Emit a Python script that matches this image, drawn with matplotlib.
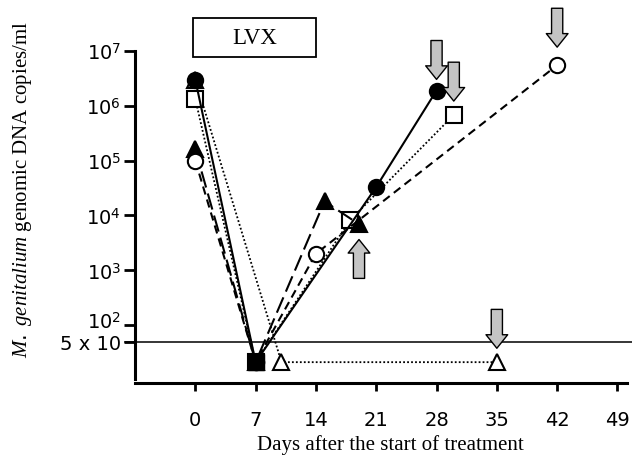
import matplotlib
matplotlib.use("Agg")
import matplotlib.pyplot as plt
from matplotlib.patches import Rectangle

plt.rcParams['mathtext.fontset'] = 'custom'
plt.rcParams['mathtext.rm'] = 'DejaVu Sans'
plt.rcParams['mathtext.it'] = 'Liberation Serif:italic'

# data (copies/ml; 21 = below detection limit)
fc_days = [0, 7, 21, 28]
fc_vals = [3.0e6, 21, 3.3e4, 1.9e6]
sq_days = [0, 7, 18, 30]
sq_vals = [1.33e6, 21, 8.3e3, 6.8e5]
oc_days = [0, 7, 14, 42]
oc_vals = [1.0e5, 21, 2.0e3, 5.5e6]
ft_days = [0, 7, 15, 19]
ft_vals = [1.6e5, 21, 1.8e4, 6.9e3]
ot_days = [0, 10, 35]
ot_vals = [3.0e6, 21, 21]

detect_limit = 50
xticks = [0, 7, 14, 21, 28, 35, 42, 49]
yticks = [50, 1e2, 1e3, 1e4, 1e5, 1e6, 1e7]
ytick_labels = ['5 x 10', r'$10^{2}$', r'$10^{3}$', r'$10^{4}$',
                r'$10^{5}$', r'$10^{6}$', r'$10^{7}$']

fig = plt.figure(figsize=(6.32, 4.6), dpi=100)
ax = fig.add_axes([0.2136, 0.1739, 0.7784, 0.7131])

lw = 1.5
ms = 11
mew = 1.5

# open triangle (dotted)
ax.plot(ot_days, ot_vals, color='k', lw=1.3, ls=(0, (1, 1.2)),
        marker='^', ms=ms, mfc='white', mec='k', mew=mew, zorder=2)
# open square (dotted)
ax.plot(sq_days, sq_vals, color='k', lw=1.3, ls=(0, (1, 1.2)),
        marker='s', ms=ms, mfc='white', mec='k', mew=mew, zorder=3)
ax.plot(sq_days[1], sq_vals[1], 's', ms=ms, mfc='k', mec='k', zorder=6)
# filled triangle (long dash)
ax.plot(ft_days, ft_vals, color='k', lw=lw, ls=(0, (8, 3)),
        marker='^', ms=ms, mfc='k', mec='k', mew=mew, zorder=4)
# open circle (short dash)
ax.plot(oc_days, oc_vals, color='k', lw=lw, ls=(0, (4, 2.5)),
        marker='o', ms=ms, mfc='white', mec='k', mew=mew, zorder=5)
# filled circle (solid)
ax.plot(fc_days, fc_vals, color='k', lw=lw, ls='-',
        marker='o', ms=ms, mfc='k', mec='k', mew=mew, zorder=5)

# detection limit line
ax.plot([-8.2, 51], [detect_limit, detect_limit], color='k', lw=1.1,
        clip_on=False, zorder=1)

# gray arrows
arrow_style = 'simple,head_length=0.75,head_width=1.2,tail_width=0.62'
down_pts = [(fc_days[-1], fc_vals[-1], 8), (sq_days[-1], sq_vals[-1], 10),
            (oc_days[-1], oc_vals[-1], 13), (ot_days[-1], ot_vals[-1], 10)]
for x, y, gap in down_pts:
    ax.annotate('', xy=(x, y), xytext=(0, 28 + gap), textcoords='offset points',
                arrowprops=dict(arrowstyle=arrow_style, fc='#c4c4c4', ec='k',
                                lw=1.0, shrinkA=0, shrinkB=gap, mutation_scale=13),
                zorder=7)
ax.annotate('', xy=(ft_days[-1], ft_vals[-1]), xytext=(0, -39),
            textcoords='offset points',
            arrowprops=dict(arrowstyle=arrow_style, fc='#c4c4c4', ec='k',
                            lw=1.0, shrinkA=0, shrinkB=11, mutation_scale=13),
            zorder=7)

ax.set_yscale('log')
ax.set_ylim(10 ** 1.015, 1e7)
ax.set_xlim(-7, 50.1)
ax.set_xticks(xticks)
ax.set_xticklabels([str(d) for d in xticks])
ax.set_yticks(yticks)
# the 10^2 label sits a little higher in the original, drawn separately below
ax.set_yticklabels([lab if i != 1 else '' for i, lab in enumerate(ytick_labels)])
ax.minorticks_off()
ax.annotate(ytick_labels[1], xy=(0, yticks[1]), xycoords=ax.get_yaxis_transform(),
            xytext=(-10, 4), textcoords='offset points',
            ha='right', va='center_baseline', fontsize=14)

for s in ['top', 'right']:
    ax.spines[s].set_visible(False)
ax.spines['left'].set_linewidth(2.2)
ax.spines['bottom'].set_linewidth(2.2)
ax.spines['bottom'].set_position(('outward', 3))

ax.tick_params(axis='x', length=6, width=2, pad=13, labelsize=14)
ax.tick_params(axis='y', length=8, width=2, pad=2, labelsize=14)

fig.text(0.035, 0.589,
         r'$\mathit{M.\ genitalium\ }$genomic DNA copies/ml',
         rotation=90, ha='center', va='center',
         family='Liberation Serif', fontsize=15)
fig.text(0.617, 0.033, 'Days after the start of treatment',
         ha='center', va='center', family='Liberation Serif', fontsize=15)

fig.patches.append(Rectangle((0.3054, 0.874), 0.1946, 0.0847,
                             transform=fig.transFigure, fill=False,
                             ec='k', lw=1.3))
fig.text(0.4027, 0.916, 'LVX', ha='center', va='center',
         family='Liberation Serif', fontsize=16.5)

fig.savefig('out.png', dpi=100)
